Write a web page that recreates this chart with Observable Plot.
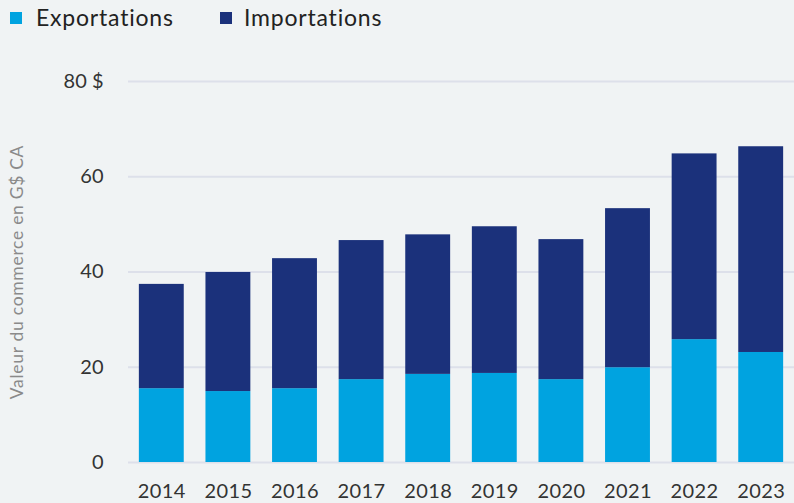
<!DOCTYPE html>
<html><head><meta charset="utf-8">
<script src="https://cdn.jsdelivr.net/npm/d3@7"></script>
<script src="https://cdn.jsdelivr.net/npm/@observablehq/plot@0.6"></script>
<style>
html,body{margin:0;padding:0;background:#f0f3f4;}
body{width:794px;height:503px;overflow:hidden;font-family:Lato,"Noto Sans",sans-serif;}
#legend{position:relative;height:36px;font-size:23px;letter-spacing:0.8px;color:#222;}
#legend .sw{position:absolute;top:12px;width:12px;height:12px;}
#legend .lb{position:absolute;top:3px;line-height:28px;}
svg{display:block;}
</style></head>
<body>
<div id="legend"></div>
<div id="chart"></div>
<script>
const years = ["2014","2015","2016","2017","2018","2019","2020","2021","2022","2023"];
const exportations = [15.5, 14.9, 15.5, 17.4, 18.5, 18.7, 17.4, 19.9, 25.8, 23.1];
const importations = [21.9, 25.0, 27.3, 29.2, 29.3, 30.8, 29.4, 33.4, 39.0, 43.2];
const seriesNames = ["Exportations", "Importations"];
const seriesColors = ["#00a3e0", "#1b317b"];
const yTicks = [0, 20, 40, 60, 80];

const data = [];
years.forEach((y, i) => {
  data.push({year: y, series: seriesNames[0], value: exportations[i]});
  data.push({year: y, series: seriesNames[1], value: importations[i]});
});

// legend
const legend = document.getElementById("legend");
const legendPos = [[10, 36], [220, 244]];
seriesNames.forEach((s, i) => {
  const sw = document.createElement("div");
  sw.className = "sw"; sw.style.left = legendPos[i][0] + "px"; sw.style.background = seriesColors[i];
  const lb = document.createElement("div");
  lb.className = "lb"; lb.style.left = legendPos[i][1] + "px"; lb.textContent = s;
  legend.appendChild(sw); legend.appendChild(lb);
});

const chart = Plot.plot({
  width: 794,
  height: 467,
  marginTop: 45,
  marginBottom: 41,
  marginLeft: 128,
  marginRight: 0,
  style: {background: "#f0f3f4", fontFamily: "Lato, 'Noto Sans', sans-serif", fontSize: "20px", color: "#333"},
  x: {domain: years, paddingInner: 0.326, paddingOuter: 0.163, round: false, label: null, tickSize: 0, tickPadding: 21},
  y: {domain: [0, 80], ticks: yTicks, tickSize: 0, tickPadding: 25,
      tickFormat: d => d === 80 ? "80 $" : String(d),
      label: "Valeur du commerce en G$ CA", labelAnchor: "center", labelArrow: "none", labelOffset: 118},
  color: {domain: seriesNames, range: seriesColors},
  marks: [
    Plot.ruleY(yTicks, {stroke: "#dde0ea", strokeWidth: 2}),
    Plot.barY(data, {x: "year", y: "value", fill: "series", order: seriesNames})
  ]
});
document.getElementById("chart").appendChild(chart);
chart.querySelectorAll("g[aria-label='y-axis label'] text").forEach(t => {
  t.style.fontSize = "17.5px"; t.style.fill = "#8a8a8a"; t.style.letterSpacing = "0.7px";
});
chart.querySelectorAll("g[aria-label='x-axis tick label'] text").forEach(t => {
  t.style.letterSpacing = "0.4px";
});
</script>
</body></html>
